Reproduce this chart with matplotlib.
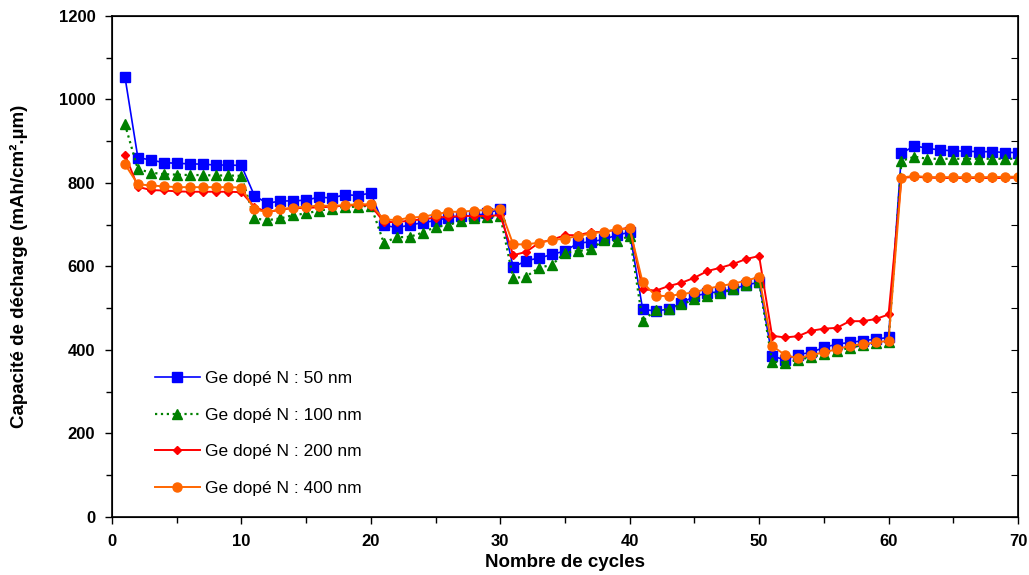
"""Capacité de décharge vs nombre de cycles, Ge dopé N."""

import matplotlib.pyplot as plt
import numpy as np

plt.rcParams['font.family'] = ['Liberation Sans', 'DejaVu Sans']

cycles = np.arange(1, 71)

# 50 nm
cap_50 = [1055, 861, 855, 849, 847, 846, 845, 843, 843, 842,
          770, 751, 757, 757, 759, 766, 764, 772, 770, 776,
          699, 693, 699, 705, 710, 717, 720, 722, 727, 738,
          598, 614, 620, 629, 637, 656, 659, 665, 675, 682,
          498, 493, 498, 512, 529, 536, 540, 546, 556, 562,
          386, 376, 389, 394, 406, 414, 418, 422, 426, 430,
          871, 889, 883, 879, 877, 876, 875, 875, 873, 873]
# 100 nm
cap_100 = [941, 833, 825, 821, 820, 819, 819, 818, 818, 817,
           715, 711, 715, 723, 727, 734, 738, 743, 743, 746,
           657, 670, 671, 681, 695, 699, 710, 715, 719, 721,
           572, 576, 597, 604, 633, 637, 641, 663, 661, 673,
           469, 496, 498, 509, 521, 530, 537, 545, 556, 562,
           372, 370, 376, 383, 390, 398, 405, 412, 416, 420,
           853, 863, 858, 858, 858, 858, 858, 858, 858, 858]
# 200 nm
cap_200 = [868, 791, 783, 782, 780, 779, 779, 779, 779, 778,
           743, 730, 736, 740, 740, 742, 743, 746, 747, 746,
           707, 706, 710, 713, 717, 719, 721, 721, 721, 723,
           627, 635, 657, 664, 675, 675, 682, 683, 688, 693,
           546, 542, 553, 561, 573, 589, 597, 606, 618, 625,
           434, 430, 433, 446, 451, 453, 469, 469, 474, 485,
           812, 815, 813, 812, 812, 812, 812, 812, 812, 813]
# 400 nm
cap_400 = [845, 797, 794, 792, 790, 790, 790, 790, 790, 789,
           737, 730, 737, 741, 743, 746, 745, 747, 749, 749,
           713, 711, 717, 719, 725, 731, 731, 734, 735, 738,
           653, 653, 657, 663, 667, 673, 679, 683, 689, 691,
           562, 530, 529, 534, 538, 547, 553, 559, 566, 575,
           410, 388, 380, 388, 394, 402, 410, 414, 418, 422,
           813, 817, 814, 814, 814, 814, 814, 814, 815, 815]

labels = ["Ge dopé N : 50 nm", "Ge dopé N : 100 nm",
          "Ge dopé N : 200 nm", "Ge dopé N : 400 nm"]

fig = plt.figure(figsize=(10.29, 5.75), dpi=100)
ax = fig.add_axes([0.1088, 0.1009, 0.8805, 0.8713])

ax.plot(cycles, cap_50, "-", color="#0000ff", marker="s", ms=6.5, lw=1.2,
        label=labels[0])
ax.plot(cycles, cap_100, ":", color="#008000", marker="^", ms=6.5, lw=1.6,
        label=labels[1])
ax.plot(cycles, cap_200, "-", color="#ff0000", marker="D", ms=4, lw=1.4,
        label=labels[2])
ax.plot(cycles, cap_400, "-", color="#ff6600", marker="o", ms=6.5, lw=1.4,
        label=labels[3])

ax.set_xlim(0, 70)
ax.set_ylim(0, 1200)
ax.set_xticks(np.arange(0, 71, 10))
ax.set_xticks(np.arange(0, 71, 5), minor=True)
ax.set_yticks(np.arange(0, 1201, 200))
ax.set_yticks(np.arange(0, 1201, 100), minor=True)
ax.tick_params(which="major", direction="out", length=5, width=1,
               labelsize=12, pad=7)
ax.tick_params(which="minor", direction="out", length=4, width=1)
for lab in ax.get_xticklabels() + ax.get_yticklabels():
    lab.set_fontweight("bold")

# inward ticks on the right frame
ax2 = ax.twinx()
ax2.set_ylim(0, 1200)
ax2.set_yticks(np.arange(0, 1201, 100))
ax2.tick_params(direction="in", length=5, labelright=False)

for sp in ax.spines.values():
    sp.set_linewidth(1.2)

ax.set_xlabel("Nombre de cycles", fontsize=13.5, fontweight="bold", labelpad=4)
ax.set_ylabel("Capacité de décharge (mAh/cm².µm)", fontsize=13.5,
              fontweight="bold", labelpad=22)

ax.legend(loc="lower left", bbox_to_anchor=(0.03, 0.01), frameon=False,
          fontsize=12.5, handlelength=2.6, labelspacing=1.25,
          handletextpad=0.3)

fig.savefig("out.png", dpi=100)
